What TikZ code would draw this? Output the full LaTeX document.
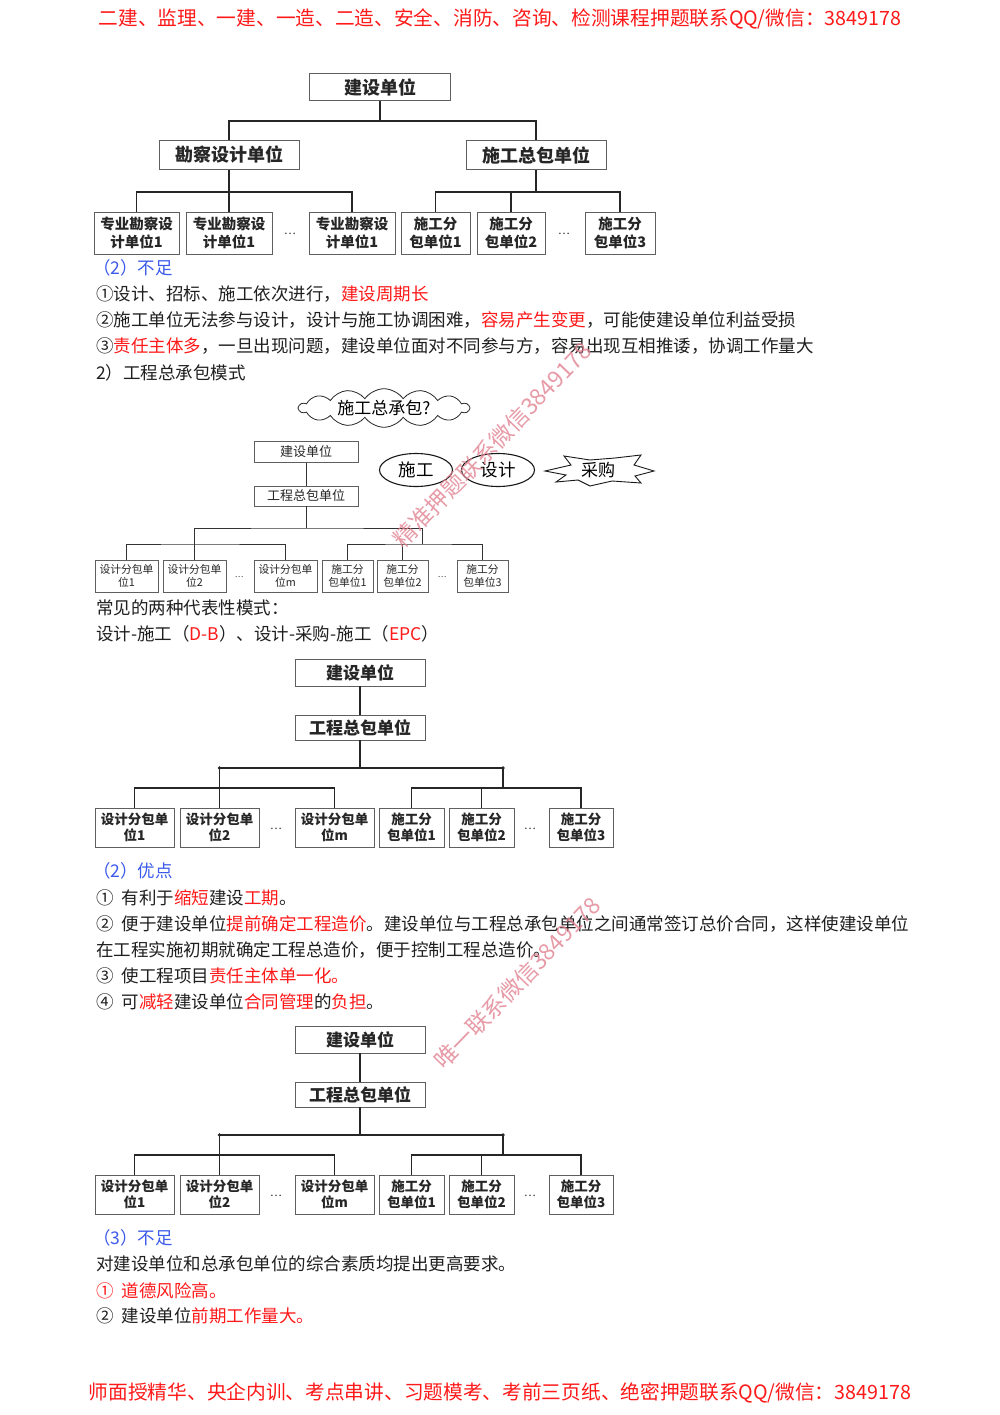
\documentclass[tikz,border=0pt]{standalone}
\usepackage{fontspec}
\setmainfont{Noto Sans CJK SC}
\usetikzlibrary{shapes.geometric,shapes.symbols}
\definecolor{hred}{RGB}{255,25,25}
\definecolor{tblue}{RGB}{60,90,235}
\definecolor{wmcol}{RGB}{225,130,145}
\definecolor{boxgray}{RGB}{95,95,95}
\newcommand{\fsz}[1]{\fontsize{#1}{#1}\selectfont}
\begin{document}
\begin{tikzpicture}[x=1pt,y=-1pt,
  bigbox/.style={draw=boxgray, line width=0.9pt, inner sep=0pt, font=\fsz{18}\bfseries, text=black!85},
  leafA/.style={draw=boxgray, line width=0.9pt, inner sep=0pt, align=center, minimum height=42, font=\fontsize{14.5}{17.5}\selectfont\bfseries, text=black!85},
  smbox/.style={draw=boxgray, line width=0.7pt, inner sep=0pt, font=\fsz{13}, text=black!85},
  leafS/.style={draw=boxgray, line width=0.7pt, inner sep=0pt, align=center, minimum height=32, font=\fontsize{10.8}{13}\selectfont, text=black!85},
  midbox/.style={draw=boxgray, line width=0.9pt, inner sep=0pt, font=\fsz{17}\bfseries, text=black!85},
  leafM/.style={draw=boxgray, line width=0.9pt, inner sep=0pt, align=center, minimum height=39, font=\fontsize{13.5}{16.5}\selectfont\bfseries, text=black!85},
  dotsn/.style={inner sep=0pt, font=\fsz{11}, text=black!85},
  conn/.style={line width=1.1pt, black!85},
  connS/.style={line width=0.9pt, black!80},
  connM/.style={line width=1.4pt, black!85},
  body/.style={anchor=west, inner sep=0pt, font=\fsz{17.5}, text=black!88},
  head/.style={inner sep=0pt, font=\fsz{19.7}, text=hred},
  wmark/.style={inner sep=0pt, font=\fsz{23}, text=wmcol, opacity=0.8}
]
\fill[white] (0,0) rectangle (1000,1415);
\useasboundingbox (0,0) rectangle (1000,1415);

% header / footer
\node[head] (hdr) at (500,19) {二建、监理、一建、一造、二造、安全、消防、咨询、检测课程押题联系QQ/微信：3849178};
\node[head] (ftr) at (500,1393) {师面授精华、央企内训、考点串讲、习题模考、考前三页纸、绝密押题联系QQ/微信：3849178};

% ---------- tree 1 ----------
\node[bigbox, minimum width=141, minimum height=27] (t1top) at (380,87) {建设单位};
\node[bigbox, minimum width=140, minimum height=29] (t1kc) at (229,155) {勘察设计单位};
\node[bigbox, minimum width=140, minimum height=29] (t1sg) at (536,155) {施工总包单位};
\coordinate (t1j) at (380,121);
\draw[conn] (t1top.south) -- (t1j);
\draw[conn] (t1kc.north) |- (t1j) -| (t1sg.north);
\node[leafA, minimum width=85] (t1l1) at (136.5,233) {专业勘察设\\计单位1};
\node[leafA, minimum width=86] (t1l2) at (229,233) {专业勘察设\\计单位1};
\node[leafA, minimum width=86] (t1l3) at (352,233) {专业勘察设\\计单位1};
\node[dotsn] (t1d1) at (290,234) {…};
\node[leafA, minimum width=69] (t1r1) at (435.5,233) {施工分\\包单位1};
\node[leafA, minimum width=68] (t1r2) at (511,233) {施工分\\包单位2};
\node[leafA, minimum width=70] (t1r3) at (620,233) {施工分\\包单位3};
\node[dotsn] (t1d2) at (564,234) {…};
\coordinate (t1lj) at (229,192);
\coordinate (t1rj) at (536,192);
\draw[conn] (t1kc.south) -- (t1l2.north);
\draw[conn] (t1l1.north) |- (t1lj) -| (t1l3.north);
\draw[conn] (t1sg.south) -- (t1rj);
\draw[conn] (t1r1.north) |- (t1rj) -| (t1r3.north);
\draw[conn] (t1r2.north) -- (t1r2.north |- t1rj);

% ---------- text 1 ----------
\node[body, text=tblue] (s1) at (93,268) {（2）不足};
\node[body] (s2) at (96,294) {①设计、招标、施工依次进行，\textcolor{hred}{建设周期长}};
\node[body] (s3) at (96,320) {②施工单位无法参与设计，设计与施工协调困难，\textcolor{hred}{容易产生变更}，可能使建设单位利益受损};
\node[body] (s4) at (96,346) {③\textcolor{hred}{责任主体多}，一旦出现问题，建设单位面对不同参与方，容易出现互相推诿，协调工作量大};
\node[body] (s5) at (96,373) {2）工程总承包模式};

% ---------- diagram 2 ----------
\node[cloud, draw=black!85, line width=0.8pt, cloud puffs=14, cloud puff arc=110, aspect=5.5,
      minimum width=170, minimum height=28, inner sep=0pt, font=\fsz{17}] (cl) at (384,408) {施工总承包?};
\node[smbox, minimum width=104, minimum height=21] (d2a) at (306,452) {建设单位};
\node[smbox, minimum width=104, minimum height=20] (d2b) at (306,496) {工程总包单位};
\draw[connS] (d2a) -- (d2b);
\coordinate (d2j) at (306,528);
\coordinate (d2lb) at (194.5,544);
\coordinate (d2rb) at (422,544);
\node[leafS, minimum width=63] (d2l1) at (126.5,576) {设计分包单\\位1};
\node[leafS, minimum width=63] (d2l2) at (194.5,576) {设计分包单\\位2};
\node[leafS, minimum width=63] (d2l3) at (285.5,576) {设计分包单\\位m};
\node[dotsn, font=\fsz{8}] (d2d1) at (239,577) {…};
\node[leafS, minimum width=51] (d2r1) at (347.5,576) {施工分\\包单位1};
\node[leafS, minimum width=51] (d2r2) at (402.5,576) {施工分\\包单位2};
\node[leafS, minimum width=51] (d2r3) at (482.5,576) {施工分\\包单位3};
\node[dotsn, font=\fsz{8}] (d2d2) at (442,577) {…};
\draw[connS] (d2b.south) -- (d2j);
\draw[connS] (d2l2.north) |- (d2j) -| (d2rb);
\draw[connS] (d2l1.north) |- (d2lb) -| (d2l3.north);
\draw[connS] (d2r1.north) |- (d2rb) -| (d2r3.north);
\draw[connS] (d2r2.north) -- (d2r2.north |- d2rb);

\node[ellipse, draw=black!90, line width=1.1pt, minimum width=73, minimum height=33, inner sep=0pt, font=\fsz{17.5}] (e1) at (416,470) {施工};
\node[ellipse, draw=black!90, line width=1.1pt, minimum width=73, minimum height=33, inner sep=0pt, font=\fsz{17.5}] (e2) at (498,470) {设计};
\draw[line width=0.9pt, black!90, line join=miter]
  (545,471) -- (571,465) -- (564,456) -- (590,460) -- (615,458) -- (641,455) -- (634,465)
  -- (654,471) -- (635,476) -- (641,483) -- (612,481) -- (590,486) -- (578,480)
  -- (556,482) -- (566,475) -- cycle;
\node[inner sep=0pt, font=\fsz{17}] (cg) at (598,470) {采购};

% ---------- text 2 ----------
\node[body] (s6) at (96,608) {常见的两种代表性模式：};
\node[body] (s7) at (96,634) {设计-施工（\textcolor{hred}{D-B}）、设计-采购-施工（\textcolor{hred}{EPC}）};

% ---------- diagrams 3 and 4 ----------
\foreach \dy/\pf in {0/pa-,367/pb-}{
\begin{scope}[shift={(0,\dy)}, name prefix=\pf]
\node[midbox, minimum width=130, minimum height=27] (top) at (360,672.5) {建设单位};
\node[midbox, minimum width=130, minimum height=25] (gc) at (360,727.5) {工程总包单位};
\draw[connM] (top) -- (gc);
\coordinate (j) at (360,768);
\coordinate (jl) at (219.5,768);
\coordinate (jr) at (503,768);
\coordinate (lb) at (219.5,788);
\coordinate (rb) at (503,788);
\node[leafM, minimum width=79] (l1) at (134.5,827.5) {设计分包单\\位1};
\node[leafM, minimum width=79] (l2) at (219.5,827.5) {设计分包单\\位2};
\node[leafM, minimum width=79] (l3) at (334.5,827.5) {设计分包单\\位m};
\node[dotsn] (d1) at (276,829) {…};
\node[leafM, minimum width=65] (r1) at (411.5,827.5) {施工分\\包单位1};
\node[leafM, minimum width=65] (r2) at (481.5,827.5) {施工分\\包单位2};
\node[leafM, minimum width=64] (r3) at (581,827.5) {施工分\\包单位3};
\node[dotsn] (d2) at (530,829) {…};
\draw[connM] (gc.south) -- (j);
\draw[connM] (l2.north) |- (j) -| (rb);
\draw[connM] (l1.north) |- (lb) -| (l3.north);
\draw[connM] (r1.north) |- (rb) -| (r3.north);
\draw[connM] (r2.north) -- (r2.north |- rb);
\fill[black!85] (jl) circle (1.8);
\fill[black!85] (jr) circle (1.8);
\end{scope}
}

% ---------- text 3 ----------
\node[body, text=tblue] (s8) at (93,871) {（2）优点};
\node[body] (s9) at (96,898) {①\hspace{0.45em}有利于\textcolor{hred}{缩短}建设\textcolor{hred}{工期}。};
\node[body] (s10) at (96,924) {②\hspace{0.45em}便于建设单位\textcolor{hred}{提前确定工程造价}。建设单位与工程总承包单位之间通常签订总价合同，这样使建设单位};
\node[body] (s11) at (96,950) {在工程实施初期就确定工程总造价，便于控制工程总造价。};
\node[body] (s12) at (96,976) {③\hspace{0.45em}使工程项目\textcolor{hred}{责任主体单一化。}};
\node[body] (s13) at (96,1002) {④\hspace{0.45em}可\textcolor{hred}{减轻}建设单位\textcolor{hred}{合同管理}的\textcolor{hred}{负担}。};

% ---------- text 4 ----------
\node[body, text=tblue] (s14) at (93,1238) {（3）不足};
\node[body] (s15) at (96,1264) {对建设单位和总承包单位的综合素质均提出更高要求。};
\node[body, text=hred] (s16) at (96,1291) {①\hspace{0.45em}道德风险高。};
\node[body] (s17) at (96,1316) {②\hspace{0.45em}建设单位\textcolor{hred}{前期工作量大。}};

% ---------- watermarks ----------
\node[wmark, rotate=46] (wm1) at (492,445) {精准押题联系微信3849178};
\node[wmark, rotate=46] (wm2) at (517,983) {唯一联系微信3849178};
\end{tikzpicture}
\end{document}
